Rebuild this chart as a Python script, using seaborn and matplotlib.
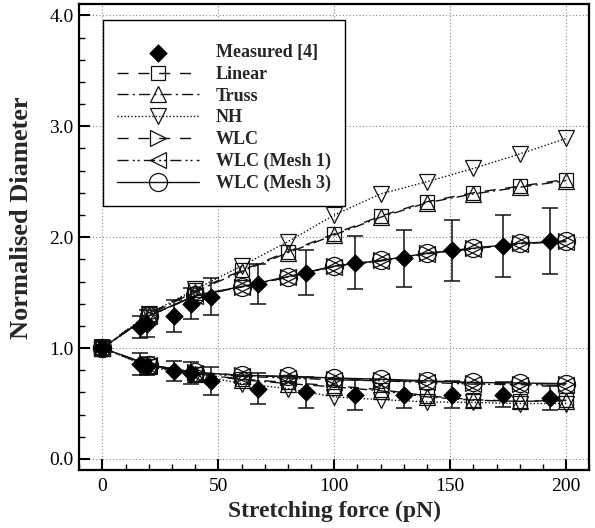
import numpy as np
import pandas as pd
import matplotlib
matplotlib.use("Agg")
import matplotlib.pyplot as plt
import seaborn as sns
from matplotlib.ticker import MultipleLocator

# ---- data ----
meas_force = [0, 16, 19, 31, 38, 47, 67, 88, 109, 130, 151, 173, 193]
meas_axial = [1.0, 1.19, 1.22, 1.29, 1.40, 1.465, 1.58, 1.68, 1.77, 1.81, 1.88, 1.92, 1.965]
meas_axial_err = [0.07, 0.10, 0.12, 0.145, 0.14, 0.17, 0.18, 0.20, 0.24, 0.255, 0.275, 0.28, 0.30]
meas_trans = [1.0, 0.86, 0.84, 0.79, 0.775, 0.705, 0.635, 0.60, 0.575, 0.58, 0.58, 0.58, 0.55]
meas_trans_err = [0.07, 0.10, 0.08, 0.09, 0.10, 0.125, 0.14, 0.14, 0.135, 0.12, 0.12, 0.11, 0.11]

model_force = [0, 20, 40, 60, 80, 100, 120, 140, 160, 180, 200]

linear_axial = [1.0, 1.31, 1.52, 1.70, 1.87, 2.03, 2.19, 2.32, 2.40, 2.46, 2.52]
linear_trans = [1.0, 0.84, 0.77, 0.72, 0.69, 0.66, 0.625, 0.57, 0.535, 0.52, 0.53]
truss_axial = [1.0, 1.30, 1.51, 1.69, 1.86, 2.02, 2.18, 2.31, 2.39, 2.45, 2.51]
truss_trans = [1.0, 0.84, 0.77, 0.715, 0.68, 0.65, 0.615, 0.56, 0.53, 0.52, 0.525]
nh_axial = [1.0, 1.31, 1.53, 1.74, 1.96, 2.20, 2.39, 2.50, 2.62, 2.75, 2.89]
nh_trans = [1.0, 0.83, 0.76, 0.68, 0.635, 0.56, 0.535, 0.515, 0.51, 0.50, 0.50]
wlc_axial = [1.0, 1.29, 1.47, 1.55, 1.64, 1.74, 1.79, 1.855, 1.90, 1.945, 1.965]
wlc_trans = [1.0, 0.85, 0.78, 0.755, 0.74, 0.725, 0.715, 0.70, 0.685, 0.68, 0.675]
wlc1_axial = [1.0, 1.29, 1.47, 1.55, 1.64, 1.735, 1.785, 1.85, 1.895, 1.94, 1.96]
wlc1_trans = [1.0, 0.845, 0.775, 0.745, 0.73, 0.715, 0.705, 0.69, 0.675, 0.67, 0.665]
wlc3_axial = [1.0, 1.29, 1.475, 1.555, 1.645, 1.74, 1.79, 1.855, 1.90, 1.945, 1.965]
wlc3_trans = [1.0, 0.85, 0.78, 0.755, 0.745, 0.73, 0.72, 0.705, 0.69, 0.685, 0.68]

labels = ["Measured [4]", "Linear", "Truss", "NH", "WLC", "WLC (Mesh 1)", "WLC (Mesh 3)"]

# ---- style ----
sns.set_theme(style="ticks")
plt.rcParams["font.family"] = ["Liberation Serif", "DejaVu Serif"]
plt.rcParams["xtick.top"] = False
plt.rcParams["ytick.right"] = False

fig = plt.figure(figsize=(5.95, 5.28), dpi=100)
ax = fig.add_axes([0.1333, 0.1097, 0.9903 - 0.1333, 0.9919 - 0.1097])

col = "#111111"
mk_common = dict(color=col, markerfacecolor="none", markeredgecolor=col,
                 markeredgewidth=0.9, linewidth=1.0)

# measured
ax.errorbar(meas_force, meas_axial, yerr=meas_axial_err, fmt="none",
            ecolor=col, elinewidth=1.1, capsize=6, capthick=1.1, zorder=4)
ax.errorbar(meas_force, meas_trans, yerr=meas_trans_err, fmt="none",
            ecolor=col, elinewidth=1.1, capsize=6, capthick=1.1, zorder=4)
dfm = pd.DataFrame({"f": meas_force + meas_force, "d": meas_axial + meas_trans})
sns.scatterplot(data=dfm.iloc[:len(meas_force)], x="f", y="d", ax=ax, marker="D",
                s=80, color="black", edgecolor="black", linewidth=0.5,
                zorder=6, label=labels[0])
sns.scatterplot(data=dfm.iloc[len(meas_force):], x="f", y="d", ax=ax, marker="D",
                s=80, color="black", edgecolor="black", linewidth=0.5,
                zorder=6, label="_nolegend_")

series = [
    (labels[1], linear_axial, linear_trans, "s", 9.5, (0, (8, 7))),
    (labels[2], truss_axial, truss_trans, "^", 11, (0, (8, 3, 1.5, 3))),
    (labels[3], nh_axial, nh_trans, "v", 11, (0, (1, 1.5))),
    (labels[4], wlc_axial, wlc_trans, ">", 11.5, (0, (8, 7))),
    (labels[5], wlc1_axial, wlc1_trans, "<", 11.5, (0, (8, 3, 1.5, 2, 1.5, 3))),
    (labels[6], wlc3_axial, wlc3_trans, "o", 13, "-"),
]
for lab, ax_vals, tr_vals, mk, ms, ls in series:
    sns.lineplot(x=model_force, y=ax_vals, ax=ax, marker=mk, markersize=ms,
                 linestyle=ls, label=lab, zorder=3, **mk_common)
    sns.lineplot(x=model_force, y=tr_vals, ax=ax, marker=mk, markersize=ms,
                 linestyle=ls, label="_nolegend_", zorder=3, **mk_common)

# ---- axes ----
ax.set_xlim(-10, 210)
ax.set_ylim(-0.1, 4.1)
ax.xaxis.set_major_locator(MultipleLocator(50))
ax.xaxis.set_minor_locator(MultipleLocator(10))
ax.yaxis.set_major_locator(MultipleLocator(1.0))
ax.yaxis.set_minor_locator(MultipleLocator(0.2))
ax.yaxis.set_major_formatter(matplotlib.ticker.FormatStrFormatter("%.1f"))
ax.tick_params(which="both", top=False, right=False)
ax.tick_params(which="major", direction="in", length=8, width=1.5, labelsize=14,
               colors="black", pad=6)
ax.tick_params(which="minor", direction="in", length=4.5, width=1.0, colors="black")
ax.tick_params(axis="y", which="major", pad=4)
for sp in ax.spines.values():
    sp.set_linewidth(1.6)
    sp.set_color("black")
ax.grid(True, which="major", linestyle=(0, (1, 2)), color="#888888", linewidth=0.8)
ax.set_axisbelow(True)

ax.set_xlabel("Stretching force (pN)", fontsize=17, fontweight="bold", labelpad=4)
ax.set_ylabel("Normalised Diameter", fontsize=19, fontweight="bold")
ax.yaxis.set_label_coords(-0.09, 0.541)

leg = ax.legend(loc="upper left", bbox_to_anchor=(0.0465, 0.966), borderaxespad=0,
                fancybox=False, frameon=True, edgecolor="black", framealpha=1,
                prop={"family": "Liberation Serif", "weight": "bold", "size": 13},
                handlelength=4.5, handletextpad=0.95, labelspacing=0.26,
                borderpad=0.8, numpoints=1, scatterpoints=1,
                title=" ", title_fontsize=5)
leg.get_frame().set_linewidth(1.0)

fig.savefig("out.png", dpi=100)
